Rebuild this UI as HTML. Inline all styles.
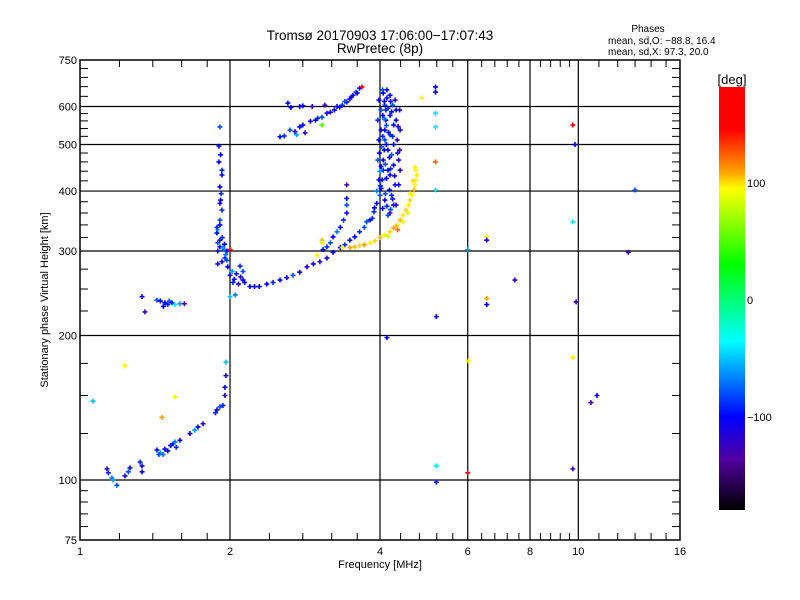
<!DOCTYPE html>
<html><head><meta charset="utf-8"><style>
body{margin:0;background:#fff}
svg{display:block;font-family:"Liberation Sans",sans-serif}
</style></head><body>
<svg id="chart" width="800" height="600" viewBox="0 0 800 600">
<rect width="800" height="600" fill="#fff"/>
<text x="380" y="40" font-size="13.5" text-anchor="middle">Tromsø 20170903 17:06:00−17:07:43</text>
<text x="380" y="53" font-size="13.5" text-anchor="middle">RwPretec (8p)</text>
<text x="648" y="32" font-size="10" text-anchor="middle">Phases</text>
<text x="608" y="44" font-size="10">mean, sd,O: −88.8, 16.4</text>
<text x="608" y="55" font-size="10">mean, sd,X:  97.3, 20.0</text>
<g id="grid"></g>
<g id="marks"></g>
<g id="axes"></g>
<text x="380" y="568" font-size="11" text-anchor="middle">Frequency [MHz]</text>
<text transform="translate(48,300) rotate(-90)" font-size="11" text-anchor="middle">Stationary phase Virtual Height [km]</text>
<defs><linearGradient id="cb" x1="0" y1="0" x2="0" y2="1">
<stop offset="0" stop-color="#ff0000"/><stop offset="0.1" stop-color="#ff0000"/><stop offset="0.2" stop-color="#ffa000"/><stop offset="0.24" stop-color="#ffff00"/><stop offset="0.42" stop-color="#00ff00"/><stop offset="0.6" stop-color="#00ffff"/><stop offset="0.78" stop-color="#0000ff"/><stop offset="0.88" stop-color="#5000a0"/><stop offset="1" stop-color="#000000"/></linearGradient></defs>
<rect x="719" y="87" width="26" height="423" fill="url(#cb)"/>
<text x="732" y="84" font-size="13" text-anchor="middle">[deg]</text>
<g id="cbticks"></g>
</svg>
<script>
const xTicks=[1,2,4,6,8,10,16];
const xMinor=[1.2,1.4,1.6,1.8,2.4,2.8,3.2,3.6,4.4,4.8,5.2,5.6,6.4,6.8,7.2,7.6,8.4,8.8,9.2,9.6,11,12,13,14,15];
const yTicks=[75,100,200,300,400,500,600,750];
const yMinor=[80,85,90,95,125,150,175,225,250,275,320,340,360,380,420,440,460,480,520,540,560,580,630,660,690,720];
const cbTicks=[100,0,-100];
// [freq MHz, height km, phase deg]
const eTrace=[[1.133,105.5,-120],[1.14,103.5,-90],[1.159,101,-70],[1.165,100,-60],[1.186,97.5,-80],[1.231,102,-110],[1.25,104,-80],[1.26,106,-100],[1.32,109,-90],[1.332,107,-100],[1.332,104,-110],[1.427,115.5,-100],[1.45,114,-60],[1.468,113,-70],[1.5,115,-100],[1.537,119,-110],[1.56,117,-90],[1.587,121,-100],[1.662,125,-110],[1.70,127,-60],[1.725,129,-100],[1.766,131,-120],[1.883,140,-100],[1.909,142,-80],[1.936,143,-90],[1.954,150,-120],[1.954,156,-100],[1.963,165,-110],[1.963,176,-50],[1.44,113,-80],[1.48,116,-110],[1.52,118,-100],[1.55,120,-70],[1.87,138,-90]];
const esCluster=[[1.332,241,-110],[1.35,224,-130],[1.427,237,-80],[1.45,236,-100],[1.48,234,-100],[1.5,232,-90],[1.53,234,-110],[1.55,232,-40],[1.587,233,-60],[1.62,233,-140],[1.062,146,-50],[1.23,173,100],[1.46,135,130],[1.55,149,90],[1.47,230,-100],[1.51,236,-80]];
const fCusp=[[1.909,544,-80],[1.9,496,-100],[1.915,476,-100],[1.927,442,-90],[1.927,432,-100],[1.909,408,-100],[1.915,383,-110],[1.909,377,-100],[1.927,365,-90],[1.909,348,-80],[1.909,340,-100],[1.89,332,-50],[1.883,327,-100],[1.909,316,-120],[1.89,312,-80],[1.909,306,-100],[1.936,305,-60],[1.89,300,-110],[1.972,300,-100],[2.0,302,160],[1.954,290,-90],[1.927,285,-100],[1.972,287,-80],[1.98,278,-100],[2.02,272,-60],[2.028,258,-90],[2.0,267,-110],[2.06,269,-100],[2.095,279,-90],[2.124,272,-80],[2.08,256,-120],[2.124,261,-100],[2.14,258,-100],[2.0,241,-50],[2.05,243,-70],[1.883,336,-90],[1.945,302,-70],[1.89,282,-110],[1.93,320,-90],[1.95,310,-100],[1.96,295,-70],[2.04,262,-100],[2.1,265,-120],[1.92,395,-90],[1.9,460,-100]];
const oTrace=[[2.193,253,-100],[2.24,253,-110],[2.29,253,-100],[2.371,256,-100],[2.44,258,-90],[2.52,261,-100],[2.60,264,-110],[2.676,267,-80],[2.76,271,-100],[2.855,278,-120],[2.94,282,-100],[3.03,285,-120],[3.13,290,-110],[3.22,298,-100],[3.33,305,-100],[3.4,309,-90],[3.48,316,-100],[3.56,321,-100],[3.64,329,-90],[3.72,336,-80],[3.82,348,-100],[3.89,362,-90],[3.94,377,-100],[4.0,392,-80],[4.02,405,-100],[4.04,422,-100],[4.06,442,-90],[4.06,464,-110],[4.08,487,-100],[4.09,511,-80],[4.09,536,-100],[4.11,562,-100],[4.11,590,-90],[4.13,625,-100],[4.13,650,-110],
[4.19,633,-100],[4.24,604,-80],[4.19,575,-100],[4.26,549,-100],[4.19,524,-90],[4.26,500,-100],[4.22,476,-80],[4.26,453,-100],[4.19,432,-100],[4.29,412,-110],[4.22,392,-90],[4.26,374,-100],[4.15,356,-80],[4.29,619,-120],[4.31,562,-110],[4.33,511,-130],[4.36,464,-120],[4.31,590,-100],[3.98,619,-100],[3.96,562,-90],[3.98,511,-100],[3.96,464,-80],[3.98,422,-100],[3.94,400,-70],[4.02,536,-100],[4.02,590,-80],[4.06,640,-100],[4.09,604,-90],[4.15,487,-100],[4.15,442,-100],[4.09,383,-110],[3.86,351,-90],[3.76,345,-80],[3.9,369,-100],
[4.38,590,-120],[4.39,536,-110],[4.38,487,-130],[4.39,442,-120],[4.36,412,-100],[4.31,374,-120],[4.19,360,-130],
[4.05,650,-80],[4.08,615,-100],[4.15,595,-90],[4.05,575,-100],[4.12,548,-80],[4.16,530,-100],[4.05,520,-90],[4.12,500,-100],[4.03,495,-80],[4.18,470,-100],[4.1,455,-80],[4.02,450,-100],[4.2,445,-90],[4.12,425,-100],[4.01,410,-90],[4.18,402,-100],[4.1,395,-80],[4.24,385,-100],[4.13,372,-90],[4.05,368,-100],[4.2,366,-80],[4.28,430,-110],[4.24,520,-90],[4.22,585,-100],[4.2,615,-100],[4.08,565,-70],[3.99,480,-100],[4.34,480,-110],[4.35,545,-120],[4.0,440,-60]];
const midTrace=[[3.075,302,-100],[3.13,306,-90],[3.18,312,-80],[3.22,321,-100],[3.28,329,-70],[3.33,336,-100],[3.38,348,-90],[3.43,360,-100],[3.43,374,-80],[3.43,386,-100],[2.99,294,100],[3.06,316,120],[3.06,312,90]];
const upperTrace=[[2.52,519,-100],[2.57,521,-90],[2.639,536,-80],[2.7,532,-120],[2.76,544,-100],[2.8,549,-100],[2.9,559,-110],[2.97,562,-100],[3.0,567,-90],[3.06,570,-80],[3.13,581,-100],[3.18,584,-120],[3.24,590,-100],[3.28,600,-110],[3.36,604,-90],[3.43,613,-100],[3.48,622,-110],[3.53,633,-100],[3.58,643,-80],[3.64,655,-100],[3.68,659,160],[3.06,549,50],[2.83,529,-130],[2.72,524,-60],[2.613,610,-100],[2.76,600,-110],[2.8,602,-100],[2.925,600,-130],[3.1,604,-130],[2.65,597,-100],[3.4,615,-80],[3.5,628,-100],[3.6,640,-110],[3.32,598,-100]];
const xTrace=[[3.48,305,130],[3.56,306,120],[3.64,308,110],[3.72,309,130],[3.82,312,100],[3.91,315,110],[4.0,320,120],[4.09,324,100],[4.19,329,110],[4.26,335,130],[4.34,340,100],[4.39,348,120],[4.45,356,100],[4.51,365,110],[4.56,374,100],[4.59,383,110],[4.64,392,95],[4.68,402,120],[4.70,412,100],[4.72,422,90],[4.74,432,100],[4.72,442,95],[4.70,448,100],[4.34,332,140],[4.45,345,90],[4.15,322,80],[3.36,305,100],[4.6,395,100],[4.66,420,110],[4.55,360,90],[4.3,338,120]];
const scattered=[[4.85,625,100],[5.17,659,-100],[5.17,643,-100],[5.17,581,-40],[5.17,544,-40],[5.17,460,140],[5.17,402,-40],[5.19,219,-100],[5.19,107,-40],[5.19,99,-100],[4.13,198,-100],[3.43,412,-130],[6.0,302,-60],[6.02,177,100],[6.0,103.5,160],[6.55,321,100],[6.55,316,-110],[6.55,239,130],[6.55,232,-100],[7.46,261,-130],[9.75,549,160],[9.85,500,-100],[9.75,345,-40],[9.75,180,100],[9.75,105.5,-130],[9.9,235,-130],[10.9,150,-100],[10.6,145,-130],[12.6,298,-130],[13.0,402,-80]];

const NS='http://www.w3.org/2000/svg';
const X0=80,X1=680,Y0=60,Y1=540;
function xs(f){return X0+150*Math.log2(f);}
function ys(h){return Y1-480*Math.log10(h/75);}
function mk(t,a,p){const e=document.createElementNS(NS,t);for(const k in a)e.setAttribute(k,a[k]);p.appendChild(e);return e;}
const stops=[[-180,[0,0,0]],[-140,[80,0,160]],[-100,[0,0,255]],[-35,[0,255,255]],[30,[0,255,0]],[95,[255,255,0]],[130,[255,160,0]],[160,[255,0,0]],[180,[255,0,0]]];
function col(p){for(let i=1;i<stops.length;i++){if(p<=stops[i][0]){const a=stops[i-1],b=stops[i];const t=Math.max(0,(p-a[0])/(b[0]-a[0]));const c=a[1].map((v,k)=>Math.round(v+(b[1][k]-v)*t));return 'rgb('+c.join(',')+')';}}return 'rgb(255,0,0)';}
const grid=document.getElementById('grid'),axes=document.getElementById('axes'),marks=document.getElementById('marks');
[2,4,6,8,10].forEach(f=>{const l=mk('line',{x1:xs(f),x2:xs(f),y1:Y0,y2:Y1,stroke:'#000','stroke-width':1.2},grid);

});
[100,200,300,400,500,600].forEach(h=>{const l=mk('line',{x1:X0,x2:X1,y1:ys(h),y2:ys(h),stroke:'#000','stroke-width':1.2},grid);

});
const frame=mk('rect',{x:X0,y:Y0,width:X1-X0,height:Y1-Y0,fill:'none',stroke:'#000','stroke-width':1.5},axes);


xTicks.forEach(f=>{const t=mk('text',{x:xs(f),y:Y1+15,'font-size':11,'text-anchor':'middle'},axes);t.textContent=f;

});
xMinor.forEach(f=>{const x=xs(f);mk('line',{x1:x,x2:x,y1:Y1,y2:Y1-7,stroke:'#000'},axes);mk('line',{x1:x,x2:x,y1:Y0,y2:Y0+7,stroke:'#000'},axes);});
yTicks.forEach(h=>{const t=mk('text',{x:X0-3,y:ys(h)+4,'font-size':11,'text-anchor':'end'},axes);t.textContent=h;

});
yMinor.forEach(h=>{const y=ys(h);mk('line',{x1:X0,x2:X0+8,y1:y,y2:y,stroke:'#000'},axes);mk('line',{x1:X1,x2:X1-8,y1:y,y2:y,stroke:'#000'},axes);});
const groups={'e-trace':eTrace,'es-cluster':esCluster,'f-cusp':fCusp,'o-trace':oTrace,'mid-trace':midTrace,'upper-trace':upperTrace,'x-trace':xTrace,'scattered-echo':scattered};
for(const g in groups){groups[g].forEach(d=>{const x=xs(d[0]),y=ys(d[1]);
const p=mk('path',{d:`M${x-2.5},${y}h5M${x},${y-2.5}v5`,stroke:col(d[2]),'stroke-width':1.6,fill:'none'},marks);

});}
const cbt=document.getElementById('cbticks');
cbTicks.forEach(v=>{const y=300-1.17*v;const t=mk('text',{x:747,y:y+4,'font-size':11},cbt);t.textContent=v<0?'−'+(-v):v;

});
</script>
</body></html>
